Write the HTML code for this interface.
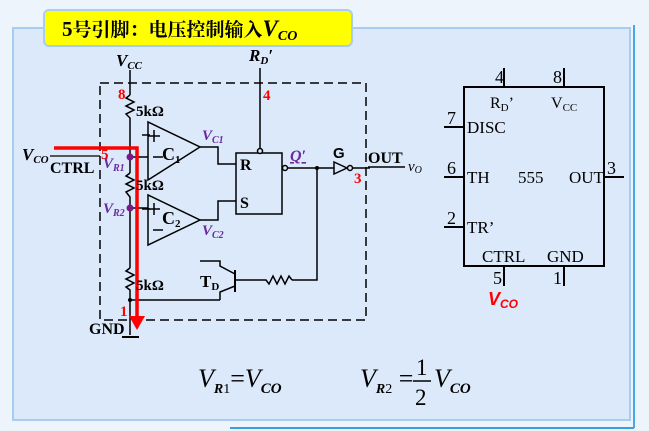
<!DOCTYPE html>
<html><head><meta charset="utf-8"><style>
html,body{margin:0;padding:0;width:649px;height:431px;overflow:hidden;background:#edf4fc;}
svg{display:block;}
.t{font-family:"Liberation Serif",serif;font-weight:bold;fill:#000;}
.n{font-family:"Liberation Serif",serif;fill:#000;}
</style></head><body>
<svg width="649" height="431" viewBox="0 0 649 431" xmlns="http://www.w3.org/2000/svg">
<rect x="13" y="28" width="617" height="392" fill="#dce9fa" stroke="#a9cdf0" stroke-width="2"/>
<line x1="634" y1="25" x2="634" y2="428" stroke="#4aa8e0" stroke-width="2"/>
<line x1="230" y1="428" x2="634" y2="428" stroke="#3aa0dc" stroke-width="2"/>
<rect x="44" y="10" width="308" height="36" rx="5" fill="#ffff00" stroke="#a9cdf0" stroke-width="2"/>
<text x="62" y="36" font-family="Liberation Serif,'Noto Serif CJK SC',serif" font-weight="bold" font-size="21">5<tspan font-family="'Noto Serif CJK SC',serif" font-size="19">号引脚：电压控制输入</tspan><tspan font-style="italic" font-size="23">V</tspan><tspan font-style="italic" font-size="14" dy="4">CO</tspan></text>

<g fill="none" stroke="#000" stroke-width="1.5">
<rect x="100" y="83" width="266" height="237" stroke-dasharray="9,5"/>
<line x1="130" y1="70" x2="130" y2="95"/>
<polyline points="130,95 126,98 134,102 126,106 134,110 126,114 130,118 130,173"/>
<polyline points="130,173 126,176 134,180 126,184 134,188 126,192 130,197 130,268"/>
<polyline points="130,268 126,271 134,275 126,279 134,283 126,287 130,290 130,335"/>
<line x1="122" y1="337" x2="139" y2="337" stroke-width="2"/>
<line x1="130" y1="300" x2="220" y2="300"/>
<line x1="130" y1="157" x2="148" y2="157"/>
<line x1="130" y1="208" x2="148" y2="208"/>
<polygon points="148,122 148,180 200,147"/>
<polygon points="148,195 148,245 200,220"/>
<polyline points="200,147 218,147 218,164 236,164"/>
<polyline points="200,220 218,220 218,201 236,201"/>
<rect x="236" y="153" width="46" height="61"/>
<line x1="260" y1="68" x2="260" y2="150"/>
<circle cx="260" cy="151" r="2.5" fill="#dce9fa"/>
<circle cx="285" cy="168" r="2.5" fill="#dce9fa"/>
<line x1="288" y1="168" x2="334" y2="168"/>
<polygon points="334,162 334,174 347,168"/>
<circle cx="350" cy="168" r="2.5" fill="#dce9fa"/>
<line x1="353" y1="168" x2="370" y2="168"/>
<polyline points="317,168 317,280 292,280"/>
<polyline points="292,280 289,276 285,284 281,276 277,284 273,276 269,284 266,280 235,280"/>
<line x1="235" y1="270" x2="235" y2="292" stroke-width="2"/>
<polyline points="200,261 220,261 220,266 235,274"/>
<polyline points="220,300 220,292 235,286"/>
<line x1="368" y1="167" x2="405" y2="167"/>
<rect x="464" y="87" width="140" height="179" stroke-width="2"/>
<line x1="504" y1="68" x2="504" y2="87" stroke-width="2"/>
<line x1="564" y1="68" x2="564" y2="87" stroke-width="2"/>
<line x1="444" y1="127" x2="464" y2="127" stroke-width="2"/>
<line x1="444" y1="177" x2="464" y2="177" stroke-width="2"/>
<line x1="444" y1="227" x2="464" y2="227" stroke-width="2"/>
<line x1="604" y1="177" x2="624" y2="177" stroke-width="2"/>
<line x1="504" y1="266" x2="504" y2="286" stroke-width="2"/>
<line x1="564" y1="266" x2="564" y2="286" stroke-width="2"/>
<line x1="142" y1="135" x2="150" y2="135"/><line x1="154" y1="130" x2="154" y2="142"/><line x1="148" y1="136" x2="160" y2="136"/>
<line x1="153" y1="157" x2="163" y2="157"/>
<line x1="142" y1="209" x2="150" y2="209"/><line x1="154" y1="203" x2="154" y2="215"/><line x1="148" y1="209" x2="160" y2="209"/>
<line x1="153" y1="230" x2="163" y2="230"/>
</g>
<circle cx="317" cy="168" r="2" fill="#000"/>
<circle cx="130" cy="300" r="2" fill="#000"/>
<circle cx="130" cy="157" r="3.5" fill="#7a1a8a"/>
<circle cx="130" cy="208" r="3.5" fill="#7a1a8a"/>
<polyline points="54,148 137,148 137,322" fill="none" stroke="#ff0000" stroke-width="3.5"/>
<polygon points="129,316 145,316 137,330" fill="#ff0000"/>

<text x="116" y="66" class="t" font-style="italic" font-size="17">V<tspan font-size="11" dy="3">CC</tspan></text>
<text x="249" y="61" class="t" font-style="italic" font-size="17">R<tspan font-size="11" dy="3">D</tspan><tspan dy="-3">′</tspan></text>
<text x="118" y="99" class="t" font-size="15" style="fill:#f00">8</text>
<text x="263" y="100" class="t" font-size="15" style="fill:#f00">4</text>
<text x="101" y="159" class="t" font-size="15" style="fill:#f00">5</text>
<text x="120" y="316" class="t" font-size="15" style="fill:#f00">1</text>
<text x="354" y="183" class="t" font-size="15" style="fill:#f00">3</text>
<text x="136" y="116" class="t" font-size="15">5kΩ</text>
<text x="136" y="190" class="t" font-size="15">5kΩ</text>
<text x="136" y="290" class="t" font-size="15">5kΩ</text>
<text x="162" y="160" class="t" font-size="18" font-weight="normal">C<tspan font-size="11" dy="3">1</tspan></text>
<text x="162" y="224" class="t" font-size="18" font-weight="normal">C<tspan font-size="11" dy="3">2</tspan></text>
<text x="202" y="140" class="t" font-style="italic" font-size="15" style="fill:#6a2aa0">V<tspan font-size="10" dy="3">C1</tspan></text>
<text x="202" y="235" class="t" font-style="italic" font-size="15" style="fill:#6a2aa0">V<tspan font-size="10" dy="3">C2</tspan></text>
<text x="103" y="168" class="t" font-style="italic" font-size="15" style="fill:#6a2aa0">V<tspan font-size="10" dy="3">R1</tspan></text>
<text x="103" y="213" class="t" font-style="italic" font-size="15" style="fill:#6a2aa0">V<tspan font-size="10" dy="3">R2</tspan></text>
<text x="290" y="161" class="t" font-style="italic" font-size="16" style="fill:#6a2aa0" text-decoration="underline">Q′</text>
<text x="240" y="170" class="t" font-size="16">R</text>
<text x="240" y="208" class="t" font-size="16">S</text>
<text x="333" y="158" font-family="Liberation Sans,sans-serif" font-weight="bold" font-size="15">G</text>
<text x="368" y="163" class="t" font-size="16">OUT</text>
<text x="408" y="171" class="n" font-style="italic" font-size="15">v<tspan font-size="10" dy="2">O</tspan></text>
<text x="22" y="160" class="t" font-style="italic" font-size="17">V<tspan font-size="11" dy="3">CO</tspan></text>
<line x1="50" y1="156" x2="100" y2="156" stroke="#000" stroke-width="1.2"/>
<text x="50" y="173" class="t" font-size="16">CTRL</text>
<text x="200" y="287" class="t" font-size="17">T<tspan font-size="11" dy="3">D</tspan></text>
<text x="89" y="334" class="t" font-size="16">GND</text>

<text x="504" y="83" class="n" font-size="18" text-anchor="end">4</text>
<text x="562" y="83" class="n" font-size="18" text-anchor="end">8</text>
<text x="490" y="108" class="n" font-size="16">R<tspan font-size="11" dy="3">D</tspan><tspan dy="-3">’</tspan></text>
<text x="551" y="108" class="n" font-size="16">V<tspan font-size="11" dy="3">CC</tspan></text>
<text x="447" y="124" class="n" font-size="18">7</text>
<text x="467" y="133" class="n" font-size="17">DISC</text>
<text x="447" y="174" class="n" font-size="18">6</text>
<text x="467" y="183" class="n" font-size="17">TH</text>
<text x="518" y="183" class="n" font-size="17">555</text>
<text x="569" y="183" class="n" font-size="17">OUT</text>
<text x="607" y="174" class="n" font-size="18">3</text>
<text x="447" y="224" class="n" font-size="18">2</text>
<text x="467" y="233" class="n" font-size="17">TR’</text>
<text x="482" y="262" class="n" font-size="17">CTRL</text>
<text x="547" y="262" class="n" font-size="17">GND</text>
<text x="502" y="284" class="n" font-size="18" text-anchor="end">5</text>
<text x="562" y="284" class="n" font-size="18" text-anchor="end">1</text>
<text x="488" y="305" font-family="Liberation Sans,sans-serif" font-weight="bold" font-style="italic" font-size="18" fill="#ff0000">V<tspan font-size="12" dy="3">CO</tspan></text>

<text x="198" y="387" class="n" font-style="italic" font-size="26">V<tspan font-size="14" dy="6" font-weight="bold">R</tspan><tspan font-size="14" font-style="normal">1</tspan><tspan dy="-6" font-style="normal">=</tspan>V<tspan font-size="15" dy="6" font-weight="bold">CO</tspan></text>
<text x="360" y="387" class="n" font-style="italic" font-size="26">V<tspan font-size="14" dy="6" font-weight="bold">R</tspan><tspan font-size="14" font-style="normal">2</tspan><tspan dy="-6" font-style="normal"> =</tspan></text>
<text x="416" y="375" class="n" font-size="23">1</text>
<line x1="413" y1="381" x2="431" y2="381" stroke="#000" stroke-width="1.5"/>
<text x="415" y="405" class="n" font-size="23">2</text>
<text x="434" y="387" class="n" font-style="italic" font-size="26">V<tspan font-size="15" dy="6" font-weight="bold">CO</tspan></text>
</svg>
</body></html>
